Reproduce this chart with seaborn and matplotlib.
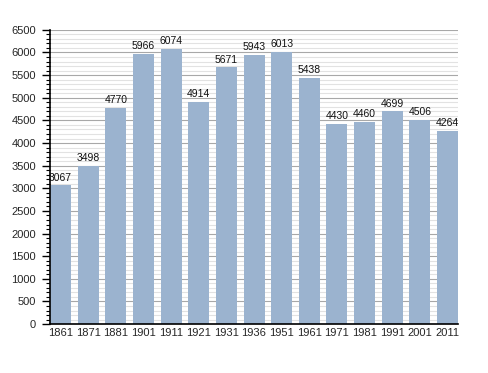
import matplotlib
matplotlib.use("Agg")
import matplotlib.pyplot as plt
import seaborn as sns
import pandas as pd
from matplotlib.ticker import MultipleLocator

years = ["1861", "1871", "1881", "1901", "1911", "1921", "1931", "1936",
         "1951", "1961", "1971", "1981", "1991", "2001", "2011"]
population = [3067, 3498, 4770, 5966, 6074, 4914, 5671, 5943,
              6013, 5438, 4430, 4460, 4699, 4506, 4264]

df = pd.DataFrame({"year": years, "pop": population})

sns.set_theme(style="white")
plt.rcParams["font.family"] = ["Liberation Sans", "DejaVu Sans"]

fig = plt.figure(figsize=(4.88, 3.73), dpi=100)
ax = fig.add_axes([0.1025, 0.131, 0.836, 0.789])

# grid: light every 100, darker every 500
ax.yaxis.set_major_locator(MultipleLocator(500))
ax.yaxis.set_minor_locator(MultipleLocator(100))
ax.grid(which="minor", axis="y", color="#e2e2e2", linewidth=0.8)
ax.grid(which="major", axis="y", color="#a8a8a8", linewidth=0.8)
ax.set_axisbelow(True)

sns.barplot(data=df, x="year", y="pop", color="#9bb3cf", saturation=1,
            width=0.76, linewidth=0, ax=ax)

for i, v in enumerate(population):
    ax.text(i, v + 60, str(v), ha="center", va="bottom", fontsize=7.5, color="#111111")

ax.set_ylim(0, 6500)
ax.set_xlim(-0.38, len(years) - 0.62)
ax.set_xlabel("")
ax.set_ylabel("")

for s in ["top", "right"]:
    ax.spines[s].set_visible(False)
ax.spines["left"].set_color("black")
ax.spines["bottom"].set_color("black")
ax.spines["left"].set_linewidth(1.2)
ax.spines["bottom"].set_linewidth(1.2)

ax.tick_params(axis="y", which="major", left=True, length=6, width=1, color="black",
               labelsize=8, pad=4)
ax.tick_params(axis="y", which="minor", left=True, length=3, width=0.8, color="black")
ax.tick_params(axis="x", bottom=False, length=0, labelsize=8, pad=3)

plt.savefig("out.png", dpi=100)
